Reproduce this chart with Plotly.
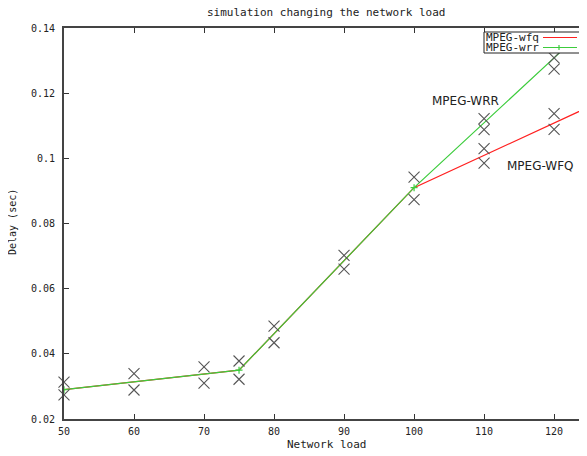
import plotly.graph_objects as go

# Fitted lines (vertices)
wfq_x = [50, 75, 100, 125]
wfq_y = [0.029, 0.035, 0.091, 0.1158]
wrr_x = [50, 75, 100, 125]
wrr_y = [0.029, 0.035, 0.091, 0.1408]

# Measured samples (crosses)
pts_x = [50, 50, 60, 60, 70, 70, 75, 75, 80, 80, 90, 90, 100, 100,
         110, 110, 110, 110, 120, 120, 120, 120]
pts_y = [0.0313, 0.0274, 0.0339, 0.0289, 0.0360, 0.0310, 0.0378, 0.0322,
         0.0485, 0.0434, 0.0702, 0.0660, 0.0942, 0.0873,
         0.1122, 0.1088, 0.1030, 0.0985, 0.1308, 0.1274, 0.1137, 0.1089]

x_ticks = [50, 60, 70, 80, 90, 100, 110, 120]
y_ticks = [0.02, 0.04, 0.06, 0.08, 0.1, 0.12, 0.14]
y_tick_text = ["0.02", "0.04", "0.06", "0.08", "0.1", "0.12", "0.14"]

mono = "DejaVu Sans Mono"
RED = "#ff2020"
GREEN = "#3ccc3c"
OFF = 8  # page body margin
# plot area in page pixels
L, T, R, B = 64, 28, 587, 419
W = R - L
H = B - T
FIG_W, FIG_H = 587 - OFF, 456 - OFF


def px(xp):
    return (xp - L) / W


def py(yp):
    return (B - yp) / H


fig = go.Figure()
fig.add_trace(go.Scatter(x=wfq_x, y=wfq_y, mode="lines", name="MPEG-wfq",
                         line=dict(color=RED, width=1.2)))
fig.add_trace(go.Scatter(x=wrr_x, y=wrr_y, mode="lines+markers", name="MPEG-wrr",
                         line=dict(color=GREEN, width=1.2),
                         marker=dict(symbol="cross-thin", size=5,
                                     line=dict(color=GREEN, width=1.2))))
fig.add_trace(go.Scatter(x=pts_x, y=pts_y, mode="markers", showlegend=False,
                         cliponaxis=False,
                         marker=dict(symbol="x-thin", size=11,
                                     line=dict(color="#555555", width=1.1))))

# Hand-built gnuplot-style legend box
fig.add_shape(type="rect", xref="paper", yref="paper",
              x0=px(484), x1=px(580), y0=py(53), y1=py(32),
              line=dict(color="#222222", width=1), fillcolor="white")
for i, (txt, col) in enumerate([("MPEG-wfq", RED), ("MPEG-wrr", GREEN)]):
    ypix = 37.5 + i * 10
    fig.add_annotation(x=px(485), y=py(ypix), xref="paper", yref="paper",
                       text=txt, showarrow=False, xanchor="left", yanchor="middle",
                       font=dict(family=mono, size=11, color="#222222"),
                       borderpad=0)
    fig.add_shape(type="line", xref="paper", yref="paper",
                  x0=px(543), x1=px(577), y0=py(ypix), y1=py(ypix),
                  line=dict(color=col, width=1.2))
fig.add_shape(type="line", xref="paper", yref="paper",
              x0=px(559), x1=px(559), y0=py(45), y1=py(50),
              line=dict(color=GREEN, width=1.2))

# Series labels
fig.add_annotation(x=107.3, y=0.1176, text="MPEG-WRR", showarrow=False,
                   xanchor="center", yanchor="middle",
                   font=dict(family="DejaVu Sans", size=12, color="#222222"))
fig.add_annotation(x=118, y=0.0976, text="MPEG-WFQ", showarrow=False,
                   xanchor="center", yanchor="middle",
                   font=dict(family="DejaVu Sans", size=12, color="#222222"))

# Title and axis titles
fig.add_annotation(x=px(326), y=py(13), xref="paper", yref="paper",
                   text="simulation changing the network load", showarrow=False,
                   xanchor="center", yanchor="middle",
                   font=dict(family=mono, size=11, color="#222222"))
fig.add_annotation(x=px(326), y=py(444), xref="paper", yref="paper",
                   text="Network load", showarrow=False,
                   xanchor="center", yanchor="middle",
                   font=dict(family=mono, size=11, color="#222222"))
fig.add_annotation(x=px(12), y=py(222), xref="paper", yref="paper",
                   text="Delay (sec)", showarrow=False, textangle=-90,
                   xanchor="center", yanchor="middle",
                   font=dict(family=mono, size=10, color="#222222"))

axis_common = dict(ticks="inside", ticklen=5, tickcolor="#333333",
                   showline=True, linecolor="#444444", linewidth=2,
                   mirror="ticks", showgrid=False, zeroline=False,
                   automargin=False,
                   tickfont=dict(family=mono, size=10, color="#222222"))

fig.update_layout(
    width=FIG_W, height=FIG_H,
    margin=dict(l=L - OFF, r=0, t=T - OFF, b=FIG_H - (B - OFF), autoexpand=False),
    paper_bgcolor="white", plot_bgcolor="white",
    showlegend=False,
    xaxis=dict(range=[50, 124.7], tickvals=x_ticks, ticklabelstandoff=2,
               **axis_common),
    yaxis=dict(range=[0.02, 0.14], tickvals=y_ticks, ticktext=y_tick_text,
               ticklabelstandoff=5, **axis_common),
)

fig.write_html("out.html")
